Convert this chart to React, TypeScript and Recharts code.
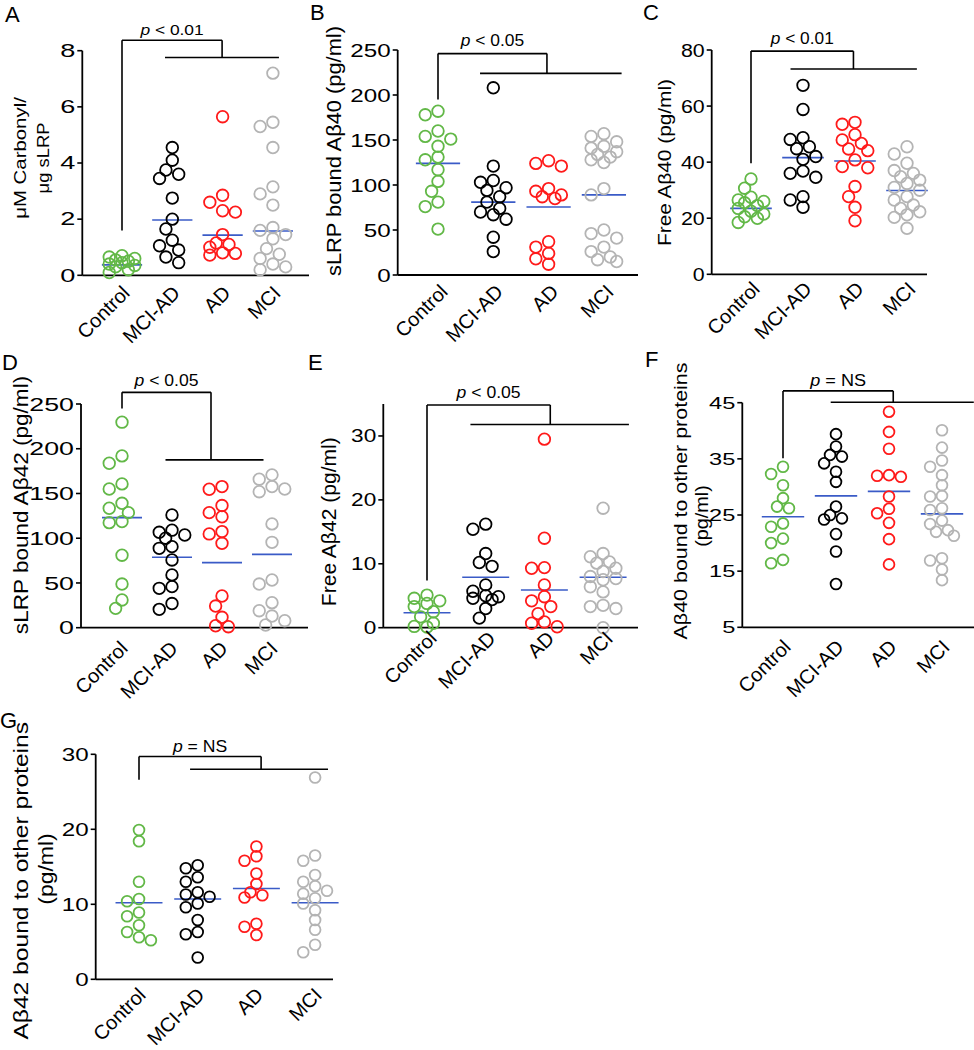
import React from "react";
import { ScatterChart, Scatter, XAxis, YAxis, ReferenceLine } from "recharts";

const FONT = "'Liberation Sans', Arial, Helvetica, sans-serif";
const groups = ["Control", "MCI-AD", "AD", "MCI"];
const groupColors = ["#62b847", "#000000", "#ff1a1a", "#b4b4b4"];
const medianColor = "#3a5bc7";

// A - uM carbonyl / ug sLRP
const carbonylControl = [0.7, 0.65, 0.6, 0.55, 0.5, 0.45, 0.4, 0.35, 0.3, 0.2, 0.1];
const carbonylMciAd = [4.55, 4.1, 3.75, 3.6, 3.45, 2.75, 2.0, 1.65, 1.25, 1.05, 0.9, 0.65, 0.45];
const carbonylAd = [5.65, 2.85, 2.6, 2.3, 2.25, 1.45, 1.15, 1.1, 1.0, 0.8, 0.78, 0.72];
const carbonylMci = [7.2, 5.45, 5.3, 4.55, 3.15, 2.9, 2.5, 1.7, 1.6, 1.45, 1.3, 0.95, 0.75, 0.6, 0.4, 0.3, 0.2];
const carbonylMedians = [0.37, 1.97, 1.43, 1.58];
const carbonylTicks = [0, 2, 4, 6, 8];

// B - sLRP bound Ab40
const bound40Control = [182, 178, 160, 154, 151, 143, 131, 128, 117, 104, 93, 81, 76, 51];
const bound40MciAd = [208, 121, 105, 103, 97, 94, 87, 81, 74, 70, 67, 62, 42, 26];
const bound40Ad = [127, 124, 121, 96, 93, 89, 87, 85, 37, 31, 24, 18, 12];
const bound40Mci = [157, 154, 148, 143, 141, 137, 134, 131, 128, 125, 96, 89, 50, 46, 41, 31, 26, 20, 17, 15];
const bound40Medians = [124, 81, 75.5, 89];
const bound40Ticks = [0, 50, 100, 150, 200, 250];

// C - free Ab40
const free40Control = [34, 30.7, 27.5, 26.5, 26, 25.5, 24.5, 23.5, 22.5, 21.5, 20.5, 20, 18.5];
const free40MciAd = [67.4, 58.8, 48.7, 48.1, 45.5, 44.8, 42, 41, 36.8, 36, 34.6, 27.7, 26.5, 23.9];
const free40Ad = [54.2, 53.5, 49.8, 47.9, 46.7, 44.7, 44.1, 40.8, 38.4, 38, 31.3, 27.7, 23.9, 19.1];
const free40Mci = [45.5, 42.9, 39.6, 37, 36, 34.8, 33.6, 32.4, 31, 30, 27.7, 26.5, 24.7, 23.5, 22.3, 21.2, 20.3, 16.4];
const free40Medians = [23.5, 41.6, 40.4, 29.9];
const free40Ticks = [0, 20, 40, 60, 80];

// D - sLRP bound Ab42
const bound42Control = [229.7, 192, 183.8, 160.7, 155, 139, 133.5, 128.6, 118.6, 117.4, 81, 48.8, 31, 21.6];
const bound42MciAd = [126, 109, 106.6, 103.6, 100, 90.6, 88.7, 75.7, 59, 45.9, 44, 27, 20.5];
const bound42Ad = [157.7, 154.7, 136.5, 128.6, 124, 107.4, 104.8, 94.3, 35.4, 24.2, 11.6, 2.2, 1.1];
const bound42Mci = [170.8, 166, 157.7, 155, 152, 116, 95.4, 53.3, 48.8, 28, 19, 13, 7.8, 3];
const bound42Medians = [123, 78.7, 72.7, 82];
const bound42Ticks = [0, 50, 100, 150, 200, 250];

// E - free Ab42
const free42Control = [5.1, 4.6, 4.2, 3.8, 3.3, 2.5, 1.7, 0.7, 0.2, 0.1];
const free42MciAd = [16.2, 15.4, 11.6, 10.2, 9.6, 6.7, 5.7, 5.0, 4.85, 4.6, 4.4, 3.0, 1.5];
const free42Ad = [29.5, 14, 9.4, 9.3, 6.7, 4.85, 4.2, 3.3, 2.2, 0.9, 0.7, 0.15];
const free42Mci = [18.7, 11.6, 11.1, 10.3, 10.1, 9.3, 8.8, 8.0, 7.7, 7.5, 6.4, 5.6, 3.5, 3.3, 3.0, 0];
const free42Medians = [2.35, 7.9, 5.9, 7.9];
const free42Ticks = [0, 10, 20, 30];

// F - Ab40 bound to other proteins
const other40Control = [33.6, 32.3, 30.3, 28, 26.5, 26.2, 23.5, 22.9, 20.8, 20, 17, 16.4];
const other40MciAd = [39.4, 37.2, 35.7, 35.4, 34.2, 32.7, 30.9, 26.5, 25, 24.4, 24.2, 21.6, 18.5, 12.7];
const other40Ad = [43.4, 39.8, 36.8, 32.1, 32, 31.8, 28.3, 26.1, 25.3, 23.6, 20.7, 16.2];
const other40Mci = [40.1, 37, 34.7, 33.6, 32.1, 30.3, 28.4, 28.3, 26.2, 25.9, 24, 23.4, 22.3, 22, 21.3, 17.3, 16.9, 15.3, 13.4];
const other40Medians = [24.7, 28.4, 29.2, 25.2];
const other40Ticks = [5, 15, 25, 35, 45];

// G - Ab42 bound to other proteins
const other42Control = [19.9, 18.4, 13, 10.7, 10.4, 8.9, 8.4, 7.2, 6.3, 5.6, 5.2];
const other42MciAd = [15.2, 14.8, 13.6, 13, 11.6, 11.3, 11, 10.1, 9.6, 7.9, 6.3, 6, 2.9];
const other42Ad = [17.7, 16.4, 15.8, 14.1, 12.7, 11.6, 11.2, 10.9, 7.4, 7, 5.9];
const other42Mci = [26.9, 16.5, 15.8, 13.9, 13, 12.4, 11.8, 11.4, 10.8, 10.1, 9.2, 7.9, 6.6, 4.6, 3.6];
const other42Medians = [10.2, 10.7, 12.1, 10.2];
const other42Ticks = [0, 10, 20, 30];

type Title = { text: string; x: number; y: number; size: number; sx: number };
type Bracket = { from: number; top: number; drop: number; lower: number; lowerFrom: number; lowerTo: number };
type PanelCfg = {
  letter: string;
  letterPos: [number, number];
  box: [number, number, number, number];
  plot: [number, number, number, number];
  cat: [number, number];
  domain: [number, number];
  ticks: number[];
  tickFont: number;
  tickSx: number;
  r: number;
  values: number[][];
  medians: number[];
  bracket: Bracket;
  pText: string;
  pFont: number;
  pSx: number;
  pGap: number;
  titles: Title[];
  xOff: [number, number];
};

const panels: PanelCfg[] = [
  {
    letter: "A", letterPos: [5, 6.7],
    box: [0, 0, 320, 365], plot: [82.3, 50.7, 309, 275.3], cat: [122, 50.3],
    domain: [0, 8], ticks: carbonylTicks, tickFont: 17.5, tickSx: 1.55, r: 5.8,
    values: [carbonylControl, carbonylMciAd, carbonylAd, carbonylMci], medians: carbonylMedians,
    bracket: { from: 1.6, top: 8.37, drop: 1.99, lower: 7.76, lowerFrom: 0.855, lowerTo: 3.12 },
    pText: "< 0.01", pFont: 14.5, pSx: 1.2, pGap: 5,
    titles: [
      { text: "μM Carbonyl/", x: 25.5, y: 158, size: 17, sx: 1.2 },
      { text: "μg sLRP", x: 49, y: 158, size: 17, sx: 1.08 },
    ],
    xOff: [9, 19],
  },
  {
    letter: "B", letterPos: [310, 5],
    box: [320, 0, 320, 365], plot: [397.7, 50, 638, 275], cat: [438, 55.3],
    domain: [0, 250], ticks: bound40Ticks, tickFont: 18.6, tickSx: 1.3, r: 5.8,
    values: [bound40Control, bound40MciAd, bound40Ad, bound40Mci], medians: bound40Medians,
    bracket: { from: 195, top: 246, drop: 1.97, lower: 224, lowerFrom: 0.76, lowerTo: 3.32 },
    pText: "< 0.05", pFont: 16.3, pSx: 1.07, pGap: 8,
    titles: [{ text: "sLRP bound Aβ40 (pg/ml)", x: 21, y: 151, size: 19.5, sx: 1.12 }],
    xOff: [11, 18],
  },
  {
    letter: "C", letterPos: [643, 5],
    box: [640, 0, 334, 365], plot: [711.7, 50, 927, 274.3], cat: [751, 52],
    domain: [0, 80], ticks: free40Ticks, tickFont: 18.6, tickSx: 1.15, r: 5.8,
    values: [free40Control, free40MciAd, free40Ad, free40Mci], medians: free40Medians,
    bracket: { from: 39.6, top: 79.6, drop: 1.97, lower: 73.2, lowerFrom: 0.76, lowerTo: 3.19 },
    pText: "< 0.01", pFont: 16.5, pSx: 1.05, pGap: 7,
    titles: [{ text: "Free Aβ40 (pg/ml)", x: 31.3, y: 162.5, size: 17.8, sx: 1.17 }],
    xOff: [10, 16],
  },
  {
    letter: "D", letterPos: [2, 355],
    box: [0, 330, 320, 390], plot: [81, 404, 308, 627.7], cat: [122, 50],
    domain: [0, 250], ticks: bound42Ticks, tickFont: 18.6, tickSx: 1.44, r: 5.8,
    values: [bound42Control, bound42MciAd, bound42Ad, bound42Mci], medians: bound42Medians,
    bracket: { from: 245, top: 263, drop: 1.78, lower: 187.6, lowerFrom: 0.87, lowerTo: 2.83 },
    pText: "< 0.05", pFont: 16, pSx: 1.1, pGap: 6.7,
    titles: [{ text: "sLRP bound Aβ42 (pg/ml)", x: 27.6, y: 175, size: 19.5, sx: 1.157 }],
    xOff: [7, 22],
  },
  {
    letter: "E", letterPos: [308, 355],
    box: [320, 330, 320, 390], plot: [383.3, 404, 638, 627.7], cat: [427, 58.7],
    domain: [0, 35], ticks: free42Ticks, tickFont: 17.7, tickSx: 1.28, r: 5.8,
    values: [free42Control, free42MciAd, free42Ad, free42Mci], medians: free42Medians,
    bracket: { from: 7.4, top: 34.85, drop: 2.1, lower: 31.8, lowerFrom: 0.74, lowerTo: 3.44 },
    pText: "< 0.05", pFont: 16, pSx: 1.1, pGap: 7,
    titles: [{ text: "Free Aβ42 (pg/ml)", x: 15.9, y: 191.7, size: 19.5, sx: 1.08 }],
    xOff: [11, 12],
  },
  {
    letter: "F", letterPos: [645, 351.7],
    box: [640, 330, 334, 390], plot: [742.3, 402.7, 974, 627.3], cat: [783, 53],
    domain: [5, 45], ticks: other40Ticks, tickFont: 16.3, tickSx: 1.45, r: 5.4,
    values: [other40Control, other40MciAd, other40Ad, other40Mci], medians: other40Medians,
    bracket: { from: 35.1, top: 47.1, drop: 2.08, lower: 45.07, lowerFrom: 0.9, lowerTo: 3.6 },
    pText: "= NS", pFont: 16, pSx: 1.13, pGap: 5,
    titles: [
      { text: "Aβ40 bound to other proteins", x: 46.8, y: 171, size: 18.5, sx: 1.16 },
      { text: "(pg/ml)", x: 67.8, y: 186, size: 18.5, sx: 1.07 },
    ],
    xOff: [9, 21],
  },
  {
    letter: "G", letterPos: [0, 713.3],
    box: [0, 700, 360, 350], plot: [95.7, 754.3, 333, 979.3], cat: [139, 58.7],
    domain: [0, 30], ticks: other42Ticks, tickFont: 18.6, tickSx: 1.3, r: 5.4,
    values: [other42Control, other42MciAd, other42Ad, other42Mci], medians: other42Medians,
    bracket: { from: 26.6, top: 29.7, drop: 2.08, lower: 28, lowerFrom: 0.87, lowerTo: 3.22 },
    pText: "= NS", pFont: 16, pSx: 1.1, pGap: 4.7,
    titles: [
      { text: "Aβ42 bound to other proteins", x: 27.9, y: 180.8, size: 20, sx: 1.23 },
      { text: "(pg/ml)", x: 52.5, y: 169, size: 20, sx: 1.15 },
    ],
    xOff: [8, 17],
  },
];

// simple beeswarm: push a point sideways when it would sit on top of an earlier one
function spread(values: number[], pxY: number, pxX: number, r: number): number[] {
  const placed: { dx: number; py: number }[] = [];
  const steps = [0, -1, 1, -2, 2];
  return values.map((v) => {
    const py = v * pxY;
    let best = 0;
    let bestD = -1;
    for (const k of steps) {
      const c = k * r * 1.1;
      let d = Infinity;
      for (const p of placed) d = Math.min(d, Math.hypot(p.dx - c, p.py - py));
      if (d >= r * 1.8) {
        best = c;
        break;
      }
      if (d > bestD) {
        bestD = d;
        best = c;
      }
    }
    placed.push({ dx: best, py });
    return best / pxX;
  });
}

const XTick = (props: any) => {
  const { x, y, payload, offX, offY } = props;
  return (
    <text
      transform={`translate(${x + offX},${y + offY}) rotate(-45)`}
      textAnchor="end"
      fontSize={20}
      fontFamily={FONT}
      fill="#000"
    >
      {groups[payload.value]}
    </text>
  );
};

const YTick = (props: any) => {
  const { x, y, payload, size, sx } = props;
  return (
    <text
      transform={`translate(${x},${y}) scale(${sx},1)`}
      textAnchor="end"
      dy="0.36em"
      fontSize={size}
      fontFamily={FONT}
      fill="#000"
    >
      {payload.value}
    </text>
  );
};

const AxisTitle = (props: any) => {
  const lines: Title[] = props.lines;
  return (
    <g>
      {lines.map((l, i) => (
        <text
          key={i}
          transform={`translate(${l.x},${l.y}) rotate(-90) scale(${l.sx},1)`}
          textAnchor="middle"
          fontSize={l.size}
          fontFamily={FONT}
          fill="#000"
        >
          {l.text}
        </text>
      ))}
    </g>
  );
};

const PLabel = (props: any) => {
  const { viewBox, text, size, sx, gap } = props;
  if (!viewBox) return null;
  const cx = viewBox.x + viewBox.width / 2;
  const y = viewBox.y - gap;
  return (
    <text
      transform={`translate(${cx},${y}) scale(${sx},1)`}
      textAnchor="middle"
      fontSize={size}
      fontFamily={FONT}
      fill="#000"
    >
      <tspan fontStyle="italic">p</tspan>
      {" " + text}
    </text>
  );
};

function Panel({ p }: { p: PanelCfg }) {
  const [bx, by, bw, bh] = p.box;
  const [pl, pt, pr, pb] = p.plot;
  const [c0, step] = p.cat;
  const YW = 30;
  const XH = 40;
  const margin = { left: pl - bx - YW, top: pt - by, right: bx + bw - pr, bottom: by + bh - pb - XH };
  const xDomain: [number, number] = [(pl - c0) / step, (pr - c0) / step];
  const pxY = (pb - pt) / (p.domain[1] - p.domain[0]);
  const series = p.values.map((vals, g) => {
    const offs = spread(vals, pxY, step, p.r);
    return vals.map((v, i) => ({ x: g + offs[i], y: v }));
  });
  const b = p.bracket;
  const line = { stroke: "#000", strokeWidth: 1.6, ifOverflow: "visible" as const };

  return (
    <div style={{ position: "absolute", left: bx, top: by }}>
      <ScatterChart width={bw} height={bh} margin={margin}>
        <XAxis
          type="number"
          dataKey="x"
          domain={xDomain}
          ticks={[0, 1, 2, 3]}
          interval={0}
          height={XH}
          tickSize={0}
          tickMargin={0}
          tickLine={false}
          axisLine={{ stroke: "#000", strokeWidth: 1.8 }}
          tick={<XTick offX={p.xOff[0]} offY={p.xOff[1]} />}
        />
        <YAxis
          type="number"
          dataKey="y"
          domain={p.domain}
          ticks={p.ticks}
          interval={0}
          width={YW}
          tickSize={5}
          tickMargin={2}
          tickLine={{ stroke: "#000", strokeWidth: 1.6 }}
          axisLine={{ stroke: "#000", strokeWidth: 1.8 }}
          tick={<YTick size={p.tickFont} sx={p.tickSx} />}
          label={<AxisTitle lines={p.titles} />}
        />
        {series.map((d, g) => (
          <Scatter
            key={groups[g]}
            name={groups[g]}
            data={d}
            isAnimationActive={false}
            shape={(s: any) => (
              <circle cx={s.cx} cy={s.cy} r={p.r} fill="none" stroke={groupColors[g]} strokeWidth={1.8} />
            )}
          />
        ))}
        {p.medians.map((m, g) => (
          <ReferenceLine
            key={"med" + g}
            segment={[{ x: g - 0.4, y: m }, { x: g + 0.4, y: m }]}
            stroke={medianColor}
            strokeWidth={1.6}
            ifOverflow="visible"
          />
        ))}
        <ReferenceLine segment={[{ x: 0, y: b.from }, { x: 0, y: b.top }]} {...line} />
        <ReferenceLine
          segment={[{ x: 0, y: b.top }, { x: b.drop, y: b.top }]}
          {...line}
          label={<PLabel text={p.pText} size={p.pFont} sx={p.pSx} gap={p.pGap} />}
        />
        <ReferenceLine segment={[{ x: b.drop, y: b.top }, { x: b.drop, y: b.lower }]} {...line} />
        <ReferenceLine segment={[{ x: b.lowerFrom, y: b.lower }, { x: b.lowerTo, y: b.lower }]} {...line} />
      </ScatterChart>
    </div>
  );
}

export default function App() {
  return (
    <div
      style={{
        position: "absolute",
        left: 0,
        top: 0,
        width: 974,
        height: 1050,
        background: "#fff",
        fontFamily: FONT,
        overflow: "hidden",
      }}
    >
      {panels.map((p) => (
        <Panel key={p.letter} p={p} />
      ))}
      {panels.map((p) => (
        <div
          key={"L" + p.letter}
          style={{
            position: "absolute",
            left: p.letterPos[0],
            top: p.letterPos[1] - 3,
            fontSize: 22,
            lineHeight: 1,
            color: "#000",
          }}
        >
          {p.letter}
        </div>
      ))}
    </div>
  );
}
